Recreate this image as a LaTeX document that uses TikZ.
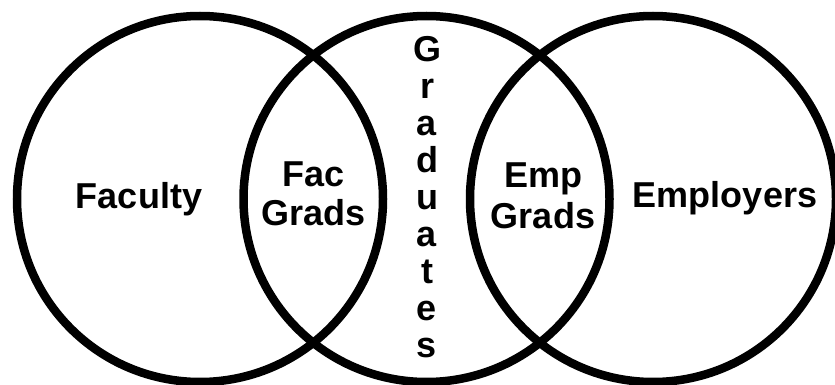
\documentclass[tikz,border=0pt]{standalone}
\usepackage{fontspec}
\setmainfont{Liberation Sans}
\usetikzlibrary{positioning}
\tikzset{
  ring/.style={draw=black,line width=8.5pt},
  lbl/.style={font=\fontsize{36}{39}\selectfont\bfseries,inner sep=0pt,anchor=base},
}
\begin{document}
\begin{tikzpicture}[x=1pt,y=-1pt]
  \useasboundingbox[fill=white] (0,0) rectangle (835,385);
  % the three sets
  \foreach \n/\x in {fac/200,grad/426.5,emp/653}
    \draw[ring] (\x,199) circle (183pt) coordinate (\n);
  \node[lbl] (faculty) at (139,208) {Faculty};
  \node[lbl] (employers) at (725,207) {Employers};
  % overlaps
  \node[lbl] (facgrads1) at (313.5,186) {Fac};
  \node[lbl] (facgrads2) at (313.5,225) {Grads};
  \node[lbl] (empgrads1) at (543,187) {Emp};
  \node[lbl] (empgrads2) at (543,228) {Grads};
  % middle set, written downwards
  \foreach \l [count=\i] in {G,r,a,d,u,a,t,e,s}
    \node[lbl] (g\i) at (427,{62+36.9*(\i-1)}) {\l};
\end{tikzpicture}
\end{document}
